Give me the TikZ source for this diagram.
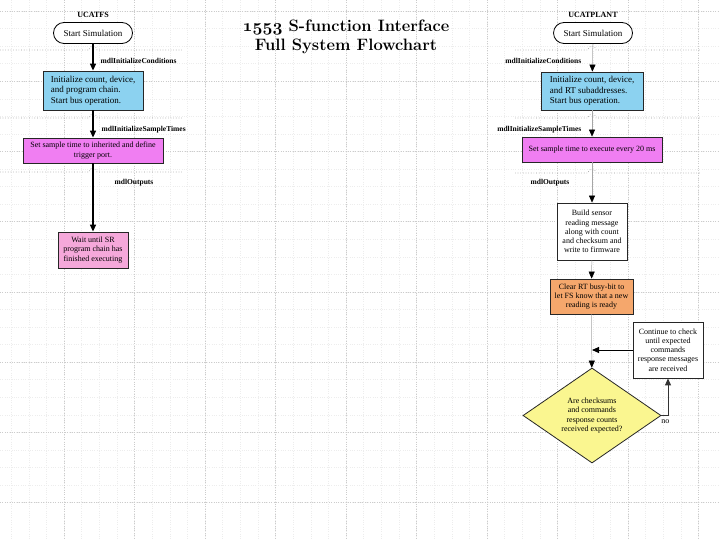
\documentclass[tikz,border=0pt]{standalone}
\usepackage{fontspec}
\newfontfamily\boxfont{Liberation Serif}
\usepackage{xcolor}
\usepackage{tikz}
\usetikzlibrary{positioning, arrows.meta, shapes.geometric}

\definecolor{initblue}{HTML}{8CD2F0}
\definecolor{sampleviolet}{HTML}{F07EF2}
\definecolor{waitpink}{HTML}{F5A8DA}
\definecolor{busyorange}{HTML}{F5A76C}
\definecolor{checkyellow}{HTML}{FAF690}

\begin{document}
\begin{tikzpicture}[x=1pt, y=-1pt,
  every node/.style={inner sep=1.5pt, font=\boxfont\fontsize{8}{9.2}\selectfont},
  term/.style={draw, line width=0.8pt, rounded corners=10.5pt, minimum width=79pt, minimum height=21pt, fill=white, font=\boxfont\fontsize{9}{10}\selectfont},
  proc/.style={draw=black!85, line width=0.8pt, align=center},
  flow/.style={-{Triangle[length=7pt,width=6pt]}, line width=1.3pt},
  thinflow/.style={-{Triangle[length=7pt,width=6pt,color=black]}, gray!70, line width=0.5pt},
  callname/.style={font=\boxfont\bfseries\fontsize{7.5}{9}\selectfont},
  sep/.style={dotted, gray!80, line width=0.65pt}]
  \useasboundingbox[fill=white] (0,0) rectangle (720,540);
  \foreach \gx in {0,...,40} \draw[gray!14, dotted, line width=0.3pt] (64+17.625*\gx-70.5,0) -- ++(0,540);
  \foreach \gy in {0,...,32} \draw[gray!14, dotted, line width=0.3pt] (0,11+17.55*\gy-70.2) -- ++(720,0);
  \foreach \gx in {0,...,9} \draw[gray!40, dotted, line width=0.4pt] (64+70.5*\gx,0) -- ++(0,540);
  \foreach \gy in {0,...,7} \draw[gray!40, dotted, line width=0.4pt] (0,11+70.2*\gy) -- ++(720,0);

  \node[font=\rmfamily\bfseries\fontsize{16.5}{18.5}\selectfont, align=center] (title) at (346,37) {{\boldmath$\mathnormal{1553}$} S-function Interface\\Full System Flowchart};

  \node[font=\boxfont\bfseries\fontsize{8}{9}\selectfont] (fsname) at (93,15) {UCATFS};
  \node[term] (fsstart) at (93,33) {Start Simulation};
  \node[proc, fill=initblue, align=left, minimum width=100pt, minimum height=39pt, font=\boxfont\fontsize{9}{10.5}\selectfont] (fsinit) at (93,90.5) {Initialize count, device,\\and program chain.\\Start bus operation.};
  \node[proc, fill=sampleviolet, minimum width=140pt, minimum height=25pt] (fssample) at (93,150.5) {Set sample time to inherited and define\\trigger port.};
  \node[proc, fill=waitpink, minimum width=70pt, minimum height=36pt] (fswait) at (93,250) {Wait until SR\\program chain has\\finished executing};
  \draw[sep] (0,50) -- (89,50) arc[start angle=180, end angle=360, radius=4] -- (182,50);
  \draw[sep] (0,118) -- (89,118) arc[start angle=180, end angle=360, radius=4] -- (182,118);
  \draw[sep] (0,172) -- (89,172) arc[start angle=180, end angle=360, radius=4] -- (182,172);
  \draw[flow] (fsstart) -- (fsinit);
  \draw[flow] (fsinit) -- (fssample);
  \draw[flow] (fssample) -- (fswait);
  \node[callname, anchor=west] (fscond) at (99,61) {mdlInitializeConditions};
  \node[callname, anchor=west] (fstimes) at (100,130) {mdlInitializeSampleTimes};
  \node[callname] (fsout) at (134,183) {mdlOutputs};

  \node[font=\boxfont\bfseries\fontsize{8}{9}\selectfont] (plname) at (593,15) {UCATPLANT};
  \node[term] (plstart) at (593,33) {Start Simulation};
  \node[proc, fill=initblue, align=left, minimum width=102pt, minimum height=38pt, font=\boxfont\fontsize{9}{10.5}\selectfont] (plinit) at (592,91) {Initialize count, device,\\and RT subaddresses.\\Start bus operation.};
  \node[proc, fill=sampleviolet, minimum width=140pt, minimum height=25pt] (plsample) at (592,149.5) {Set sample time to execute every 20 ms};
  \node[proc, fill=white, minimum width=70pt, minimum height=57pt] (plbuild) at (592,231.5) {Build sensor\\reading message\\along with count\\and checksum and\\write to firmware};
  \node[proc, fill=busyorange, minimum width=83pt, minimum height=35pt] (plclear) at (591.5,296.5) {Clear RT busy-bit to\\let FS know that a new\\reading is ready};
  \node[proc, fill=checkyellow, diamond, aspect=1.45, inner sep=0pt, minimum width=138pt, minimum height=95pt] (plcheck) at (592,415.5) {Are checksums\\and commands\\response counts\\received expected?};
  \node[proc, fill=white, minimum width=70pt, minimum height=56pt] (plwait) at (668,350) {Continue to check\\until expected\\commands\\response messages\\are received};
  \coordinate (plmerge) at (592,350);
  \draw[sep] (515,50) -- (588,50) arc[start angle=180, end angle=360, radius=4] -- (700,50);
  \draw[sep] (515,118) -- (588,118) arc[start angle=180, end angle=360, radius=4] -- (700,118);
  \draw[sep] (515,173) -- (588,173) arc[start angle=180, end angle=360, radius=4] -- (700,173);
  \draw[thinflow] (plstart) -- (plinit);
  \draw[thinflow] (plinit) -- (plsample);
  \draw[thinflow] (plsample) -- (plbuild);
  \draw[thinflow] (plbuild) -- (plclear);
  \draw[thinflow] (plclear) -- (plcheck);
  \draw[flow, line width=0.9pt] (plwait.west) -- (plmerge);
  \draw[flow, line width=0.9pt, black!80] (plcheck.east) -| node[pos=0.3, below, yshift=-2pt, text=black, font=\boxfont\fontsize{8}{9}\selectfont] {no} (plwait.south);
  \node[callname, anchor=east] (plcond) at (583,61) {mdlInitializeConditions};
  \node[callname, anchor=east] (pltimes) at (583,130) {mdlInitializeSampleTimes};
  \node[callname] (plout) at (550,183) {mdlOutputs};
\end{tikzpicture}
\end{document}
